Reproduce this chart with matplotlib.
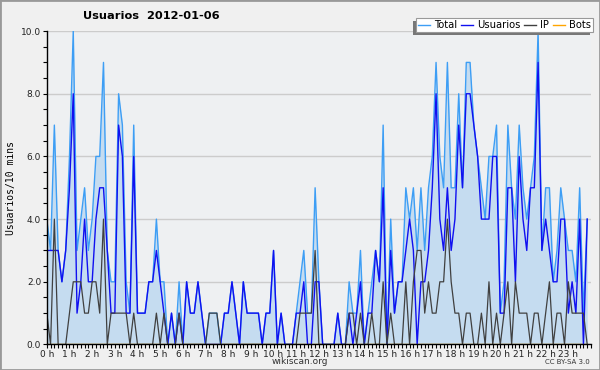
import numpy as np
import matplotlib.pyplot as plt
from matplotlib.patches import Rectangle
from matplotlib.lines import Line2D

# 10-minute slots, 2012-01-06
hour_labels = [f"{h} h" for h in range(24)]

total = [4, 3, 7, 3, 2, 3, 6, 10, 3, 4, 5, 3,
         4, 6, 6, 9, 3, 2, 2, 8, 7, 2, 1, 7,
         1, 1, 1, 2, 2, 4, 2, 2, 0, 1, 0, 2,
         0, 2, 1, 1, 2, 1, 0, 1, 1, 1, 0, 1,
         1, 2, 1, 0, 2, 1, 1, 1, 1, 0, 1, 1,
         3, 0, 1, 0, 0, 0, 1, 2, 3, 1, 1, 5,
         2, 0, 0, 0, 0, 1, 0, 0, 2, 1, 1, 3,
         0, 1, 2, 3, 2, 7, 0, 4, 1, 2, 2, 5,
         4, 5, 3, 5, 3, 5, 6, 9, 6, 5, 9, 5,
         5, 8, 5, 9, 9, 7, 6, 5, 4, 6, 6, 7,
         1, 2, 7, 5, 4, 7, 5, 4, 5, 6, 10, 3,
         5, 5, 2, 3, 5, 4, 3, 3, 2, 5, 1, 4]

usuarios = [3, 3, 3, 3, 2, 3, 5, 8, 1, 2, 4, 2,
            2, 4, 5, 5, 3, 1, 1, 7, 6, 1, 1, 6,
            1, 1, 1, 2, 2, 3, 2, 1, 0, 1, 0, 1,
            0, 2, 1, 1, 2, 1, 0, 0, 0, 0, 0, 1,
            1, 2, 1, 0, 2, 1, 1, 1, 1, 0, 1, 1,
            3, 0, 1, 0, 0, 0, 1, 1, 2, 0, 0, 2,
            2, 0, 0, 0, 0, 1, 0, 0, 1, 0, 1, 2,
            0, 1, 1, 3, 2, 5, 0, 3, 1, 2, 2, 3,
            4, 3, 0, 2, 2, 3, 5, 8, 4, 3, 5, 3,
            4, 7, 5, 8, 8, 7, 6, 4, 4, 4, 6, 6,
            1, 1, 5, 5, 2, 6, 4, 3, 5, 5, 9, 3,
            4, 3, 2, 2, 4, 4, 1, 2, 1, 4, 0, 4]

ip = [1, 0, 4, 0, 0, 0, 1, 2, 2, 2, 1, 1,
      2, 2, 1, 4, 0, 1, 1, 1, 1, 1, 0, 1,
      0, 0, 0, 0, 0, 1, 0, 1, 0, 0, 0, 1,
      0, 0, 0, 0, 0, 0, 0, 1, 1, 1, 0, 0,
      0, 0, 0, 0, 0, 0, 0, 0, 0, 0, 0, 0,
      0, 0, 0, 0, 0, 0, 0, 1, 1, 1, 1, 3,
      0, 0, 0, 0, 0, 0, 0, 0, 1, 1, 0, 1,
      0, 0, 1, 0, 0, 2, 0, 1, 0, 0, 0, 2,
      0, 2, 3, 3, 1, 2, 1, 1, 2, 2, 4, 2,
      1, 1, 0, 1, 1, 0, 0, 1, 0, 2, 0, 1,
      0, 1, 2, 0, 2, 1, 1, 1, 0, 1, 1, 0,
      1, 2, 0, 1, 1, 0, 2, 1, 1, 1, 1, 0]

bots = [0] * 144

c_total = "#3d9ef5"
c_users = "#1010f0"
c_ip = "#404040"
c_bots = "#ffa500"

x = np.arange(len(total))

fig = plt.figure(figsize=(6, 3.7), dpi=100, facecolor="#f0f0f0")
ax = fig.add_axes([0.078, 0.069, 0.907, 0.847])
ax.set_facecolor("#eef0f2")

ax.fill_between(x, total, 0, color="#c5dcf0", lw=0)
ax.plot(x, bots, color=c_bots, lw=1.0)
ax.plot(x, total, color=c_total, lw=1.0)
ax.plot(x, usuarios, color=c_users, lw=1.0)
ax.plot(x, ip, color=c_ip, lw=0.9)

ax.set_xlim(0, 144)
ax.set_ylim(0, 10)
ax.set_xticks(np.arange(0, 144, 6))
ax.set_xticklabels(hour_labels)
ax.set_xticks(np.arange(0, 145, 1), minor=True)
ax.set_yticks(np.arange(0, 10.1, 2))
ax.set_yticklabels([f"{v:.1f}" for v in np.arange(0, 10.1, 2)])
ax.set_yticks(np.arange(0, 10.1, 0.5), minor=True)
ax.grid(axis="y", which="major", color="#cccccc", lw=1)
ax.set_axisbelow(True)
for s in ["top", "right"]:
    ax.spines[s].set_visible(False)
for s in ["left", "bottom"]:
    ax.spines[s].set_linewidth(1.0)
ax.tick_params(which="both", direction="out", length=3, width=0.8,
               labelsize=6.5, pad=1, colors="black")
ax.tick_params(axis="x", labelcolor="#222222")
ax.tick_params(axis="y", labelcolor="#222222")
ax.set_ylabel("Usuarios/10 mins", family="DejaVu Sans Mono", fontsize=7, labelpad=4)

fig.text(151 / 600, 1 - 16 / 370, "Usuarios  2012-01-06", ha="center", va="center",
         fontsize=8.2, fontweight="bold")
fig.text(0.5, 1 - 362 / 370, "wikiscan.org", ha="center", va="center",
         fontsize=6.5, color="#333333")
fig.text(590 / 600, 1 - 362 / 370, "CC BY-SA 3.0", ha="right", va="center",
         fontsize=5, color="#333333")

handles = [Line2D([], [], color=c, lw=1.0) for c in (c_total, c_users, c_ip, c_bots)]
leg = fig.legend(handles, ["Total", "Usuarios", "IP", "Bots"], ncol=4,
                 loc="upper right", bbox_to_anchor=(593 / 600, 1 - 18 / 370),
                 fontsize=7.2, frameon=True, fancybox=False, edgecolor="#999999",
                 framealpha=1, handlelength=1.2, handletextpad=0.4,
                 columnspacing=0.4, borderpad=0.2, borderaxespad=0)
leg.get_frame().set_linewidth(0.8)

fig.canvas.draw()
bb = leg.get_window_extent().transformed(fig.transFigure.inverted())
dx, dy = 3 / 600, 3 / 370
fig.patches.append(Rectangle((bb.x0 - dx, bb.y0 - dy), bb.width, bb.height,
                             transform=fig.transFigure, facecolor="#777777",
                             edgecolor="none", zorder=4))
fig.patches.append(Rectangle((0, 0), 1, 1, transform=fig.transFigure, fill=False,
                             edgecolor="#999999", lw=2, zorder=10))

fig.savefig("out.png", dpi=100, facecolor=fig.get_facecolor())
